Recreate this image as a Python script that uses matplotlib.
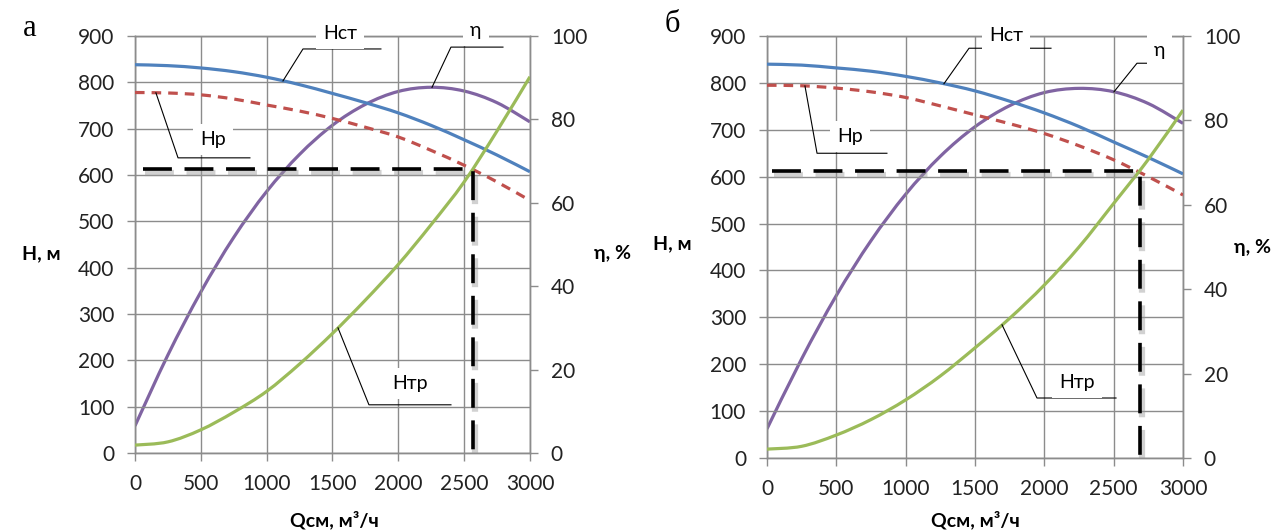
import numpy as np
import matplotlib
matplotlib.use('Agg')
import matplotlib.pyplot as plt
import matplotlib.patheffects as pe
from matplotlib.path import Path
from matplotlib.patches import PathPatch

plt.rcParams['font.family'] = ['Lato', 'Open Sans', 'DejaVu Sans']

# Подача, м3/ч
Q = [0, 250, 500, 750, 1000, 1250, 1500, 1750, 2000, 2250, 2500, 2750, 3000]

# --- вариант а ---
H_st_a = [838, 836, 831, 823, 811, 795, 776, 756, 734, 707, 676, 643, 607]
H_r_a = [778, 777, 773, 764, 751, 738, 722, 703, 682, 653, 621, 585, 545]
eta_a = [6.5, 23.5, 38.6, 51.7, 62.7, 71.6, 78.6, 83.6, 86.7, 87.7, 86.8, 84.0, 79.4]
H_tr_a = [17, 24, 50, 88, 133, 192, 258, 330, 407, 493, 585, 695, 812]
op_a = (2570, 612)   # рабочая точка

# --- вариант б ---
H_st_b = [840, 838, 832, 825, 814, 800, 783, 761, 736, 707, 674, 641, 606]
H_r_b = [795, 794, 789, 781, 769, 751, 732, 713, 692, 666, 636, 600, 561]
eta_b = [6.9, 23.5, 38.5, 51.5, 62.5, 71.5, 78.5, 83.5, 86.6, 87.6, 86.8, 84.0, 79.3]
H_tr_b = [19, 25, 49, 82, 124, 175, 235, 298, 369, 450, 543, 637, 742]
op_b = (2690, 612)

BLUE = '#4F81BD'
RED = '#C0504D'
PURPLE = '#8064A2'
GREEN = '#9BBB59'
GRID = '#8c8c8c'

fig = plt.figure(figsize=(12.77, 5.3), dpi=100)


def smooth_line(ax, x, y, **kw):
    # сглаженная линия через точки (кубические кривые Безье, как в Excel)
    x = np.asarray(x, float)
    y = np.asarray(y, float)
    n = len(x)
    verts = [(x[0], y[0])]
    codes = [Path.MOVETO]
    for i in range(n - 1):
        x0, y0 = (x[i - 1], y[i - 1]) if i > 0 else (x[i], y[i])
        x3, y3 = (x[i + 2], y[i + 2]) if i + 2 < n else (x[i + 1], y[i + 1])
        c1 = (x[i] + (x[i + 1] - x0) / 6, y[i] + (y[i + 1] - y0) / 6)
        c2 = (x[i + 1] - (x3 - x[i]) / 6, y[i + 1] - (y3 - y[i]) / 6)
        verts += [c1, c2, (x[i + 1], y[i + 1])]
        codes += [Path.CURVE4] * 3
    patch = PathPatch(Path(verts, codes), facecolor='none', **kw)
    ax.add_patch(patch)
    return patch


def label(ax, text, xy, elbow, end, txt):
    # подпись с выноской
    ax.plot([xy[0], elbow[0], end[0]], [xy[1], elbow[1], end[1]],
            color='black', lw=0.8, zorder=4, clip_on=False)
    ax.text(txt[0], txt[1], text, fontsize=14, ha='center', va='center',
            zorder=5, clip_on=False,
            bbox=dict(facecolor='white', edgecolor='none', pad=5))


def panel(rect, H_st, H_r, eta, H_tr, op, start_x, notes):
    ax = fig.add_axes(rect)
    ax2 = ax.twinx()
    ax.set_zorder(ax2.get_zorder() + 1)
    ax.patch.set_visible(False)

    ax.set_xlim(0, 3000)
    ax.set_ylim(0, 900)
    ax2.set_ylim(0, 100)
    ax.set_xticks(np.arange(0, 3001, 500))
    ax.set_yticks(np.arange(0, 901, 100))
    ax2.set_yticks(np.arange(0, 101, 20))
    ax.grid(True, color=GRID, lw=1)
    ax.set_axisbelow(True)
    for a in (ax, ax2):
        for s in a.spines.values():
            s.set_color(GRID)
            s.set_linewidth(1)
        a.tick_params(colors=GRID, labelcolor='#222222', labelsize=15,
                      length=6, width=1, pad=9)

    smooth_line(ax, Q, H_st, edgecolor=BLUE, lw=2.3, zorder=3)
    smooth_line(ax, Q, H_r, edgecolor=RED, lw=2.3, linestyle=(0, (3, 2.2)),
                zorder=3)
    smooth_line(ax, Q, H_tr, edgecolor=GREEN, lw=2.3, zorder=3)
    smooth_line(ax2, Q, eta, edgecolor=PURPLE, lw=2.3, zorder=3)

    shadow = [pe.SimpleLineShadow(offset=(1.5, -2.5), shadow_color='#999999',
                                  alpha=0.45, linewidth=4.5), pe.Normal()]
    ax.plot([start_x, op[0], op[0]], [op[1], op[1], 0], color='black',
            lw=2.6, dashes=(8, 3.5), zorder=4, path_effects=shadow)

    curves = {'Hст': H_st, 'Hр': H_r, 'Hтр': H_tr,
              'η': list(np.array(eta) * 9)}
    for name, (q0, elbow, end, txt) in notes.items():
        y0 = np.interp(q0, Q, curves[name])
        label(ax, name, (q0, y0), elbow, end, txt)
    return ax


notes_a = {
    'Hст': (1124, (1276, 872), (1868, 872), (1557, 906)),
    'η': (2256, (2400, 876), (2795, 876), (2590, 912)),
    'Hр': (159, (327, 637), (873, 637), (592, 676)),
    'Hтр': (1542, (1777, 104), (2400, 104), (2089, 151)),
}
notes_b = {
    'Hст': (1276, (1457, 874), (2048, 874), (1724, 902)),
    'η': (2502, (2668, 842), (2906, 842), (2830, 870)),
    'Hр': (274, (361, 650), (865, 650), (599, 685)),
    'Hтр': (1695, (1947, 128), (2517, 128), (2236, 162)),
}

panel([0.1057, 0.1453, 0.3093, 0.7868], H_st_a, H_r_a, eta_a, H_tr_a,
      op_a, 60, notes_a)
panel([0.6006, 0.1358, 0.3258, 0.7962], H_st_b, H_r_b, eta_b, H_tr_b,
      op_b, 36, notes_b)

bold = dict(fontsize=14, fontweight='bold', ha='center', va='center')
fig.text(41 / 1277, 1 - 254 / 530, 'H, м', **bold)
fig.text(612 / 1277, 1 - 254 / 530, 'η, %', **bold)
fig.text(334 / 1277, 1 - 520 / 530, 'Qсм, м³/ч', **bold)
fig.text(672 / 1277, 1 - 244 / 530, 'H, м', **bold)
fig.text(1252 / 1277, 1 - 247 / 530, 'η, %', **bold)
fig.text(975 / 1277, 1 - 520 / 530, 'Qсм, м³/ч', **bold)

fig.text(30 / 1277, 1 - 28 / 530, 'а', family='Liberation Serif',
         fontsize=22, ha='center', va='center')
fig.text(672 / 1277, 1 - 25 / 530, 'б', family='Liberation Serif',
         fontsize=22, ha='center', va='center')

plt.savefig('out.png', dpi=100)
